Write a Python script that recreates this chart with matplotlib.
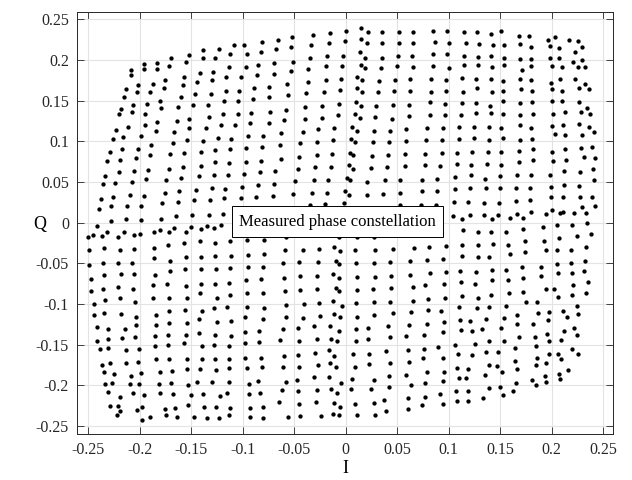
import numpy as np
import matplotlib
matplotlib.use('Agg')
import matplotlib.pyplot as plt

plt.rcParams['font.family'] = ['Liberation Serif', 'DejaVu Serif']
plt.rcParams['axes.unicode_minus'] = False

# measured (I, Q) samples, grouped by region of the plane
left_upper = [
    (-0.152, 0.206), (-0.170, 0.202), (-0.155, 0.197), (-0.183, 0.196), (-0.196, 0.195),
    (-0.172, 0.193), (-0.183, 0.189), (-0.196, 0.189), (-0.209, 0.188), (-0.209, 0.181),
    (-0.157, 0.179), (-0.176, 0.175), (-0.187, 0.170), (-0.202, 0.169), (-0.177, 0.166),
    (-0.158, 0.169), (-0.213, 0.164), (-0.203, 0.161), (-0.190, 0.161), (-0.215, 0.155),
    (-0.160, 0.155), (-0.180, 0.150), (-0.207, 0.145), (-0.193, 0.146), (-0.218, 0.140),
    (-0.179, 0.141), (-0.163, 0.142), (-0.208, 0.136), (-0.195, 0.134), (-0.220, 0.133),
    (-0.164, 0.125), (-0.152, 0.127), (-0.183, 0.124), (-0.195, 0.120), (-0.211, 0.118),
    (-0.223, 0.114), (-0.184, 0.113), (-0.167, 0.112), (-0.152, 0.116), (-0.199, 0.107),
    (-0.216, 0.105), (-0.226, 0.103), (-0.154, 0.101), (-0.168, 0.098), (-0.189, 0.095),
    (-0.202, 0.091), (-0.217, 0.090), (-0.229, 0.087), (-0.171, 0.085), (-0.157, 0.086),
    (-0.190, 0.083), (-0.204, 0.079), (-0.219, 0.077), (-0.232, 0.076), (-0.158, 0.069),
    (-0.172, 0.066), (-0.192, 0.065), (-0.206, 0.063), (-0.220, 0.062), (-0.234, 0.057),
    (-0.194, 0.054), (-0.175, 0.053), (-0.160, 0.055), (-0.208, 0.050), (-0.224, 0.049),
    (-0.236, 0.047), (-0.162, 0.039), (-0.176, 0.037), (-0.210, 0.034), (-0.196, 0.033),
    (-0.226, 0.032), (-0.238, 0.029), (-0.163, 0.025), (-0.178, 0.024), (-0.212, 0.020),
    (-0.199, 0.020), (-0.228, 0.020), (-0.240, 0.017), (-0.165, 0.008), (-0.179, 0.004),
    (-0.199, 0.003), (-0.213, 0.005), (-0.228, 0.002),
]
left_lower = [
    (-0.242, -0.004), (-0.250, -0.018), (-0.245, -0.015), (-0.237, -0.016), (-0.232, -0.012),
    (-0.221, -0.018), (-0.215, -0.012), (-0.206, -0.015), (-0.200, -0.014), (-0.186, -0.012),
    (-0.180, -0.009), (-0.172, -0.011), (-0.167, -0.007), (-0.155, -0.011), (-0.157, -0.025),
    (-0.173, -0.027), (-0.186, -0.031), (-0.249, -0.034), (-0.235, -0.031), (-0.219, -0.033),
    (-0.206, -0.032), (-0.249, -0.052), (-0.236, -0.050), (-0.221, -0.049), (-0.208, -0.049),
    (-0.186, -0.044), (-0.171, -0.047), (-0.155, -0.042), (-0.156, -0.057), (-0.171, -0.060),
    (-0.185, -0.064), (-0.235, -0.064), (-0.218, -0.063), (-0.206, -0.063), (-0.247, -0.069),
    (-0.236, -0.081), (-0.221, -0.079), (-0.207, -0.082), (-0.247, -0.084), (-0.187, -0.077),
    (-0.174, -0.075), (-0.155, -0.078), (-0.154, -0.092), (-0.172, -0.092), (-0.187, -0.093),
    (-0.234, -0.095), (-0.219, -0.093), (-0.205, -0.097), (-0.244, -0.100), (-0.244, -0.114),
    (-0.235, -0.111), (-0.218, -0.112), (-0.204, -0.116), (-0.184, -0.114), (-0.172, -0.109),
    (-0.156, -0.107), (-0.242, -0.128), (-0.231, -0.131), (-0.214, -0.131), (-0.204, -0.126),
    (-0.184, -0.126), (-0.172, -0.123), (-0.154, -0.123), (-0.242, -0.145), (-0.231, -0.143),
    (-0.217, -0.142), (-0.205, -0.140), (-0.185, -0.139), (-0.173, -0.138), (-0.155, -0.138),
    (-0.157, -0.148), (-0.173, -0.150), (-0.185, -0.152), (-0.239, -0.155), (-0.231, -0.154),
    (-0.213, -0.156), (-0.201, -0.155), (-0.237, -0.175), (-0.229, -0.172), (-0.213, -0.173),
    (-0.202, -0.171), (-0.184, -0.167), (-0.172, -0.167), (-0.154, -0.168), (-0.235, -0.184),
    (-0.225, -0.186), (-0.209, -0.188), (-0.199, -0.185), (-0.180, -0.184), (-0.169, -0.182),
    (-0.154, -0.180), (-0.234, -0.198), (-0.227, -0.197), (-0.210, -0.198), (-0.201, -0.198),
    (-0.181, -0.198), (-0.170, -0.197), (-0.153, -0.199), (-0.231, -0.208), (-0.219, -0.214),
    (-0.207, -0.209), (-0.196, -0.212), (-0.180, -0.209), (-0.168, -0.211), (-0.150, -0.212),
    (-0.229, -0.225), (-0.221, -0.225), (-0.219, -0.231), (-0.222, -0.236), (-0.203, -0.230),
    (-0.198, -0.226), (-0.176, -0.229), (-0.166, -0.228), (-0.153, -0.224), (-0.198, -0.243),
    (-0.190, -0.239), (-0.175, -0.237), (-0.164, -0.239),
]
midleft_upper = [
    (-0.139, 0.212), (-0.139, 0.202), (-0.123, 0.214), (-0.127, 0.202), (-0.109, 0.218),
    (-0.112, 0.207), (-0.099, 0.218), (-0.096, 0.207), (-0.081, 0.222), (-0.082, 0.210),
    (-0.066, 0.225), (-0.068, 0.213), (-0.052, 0.228), (-0.053, 0.216), (-0.051, 0.198),
    (-0.070, 0.196), (-0.085, 0.194), (-0.097, 0.191), (-0.113, 0.191), (-0.129, 0.185),
    (-0.142, 0.184), (-0.144, 0.173), (-0.130, 0.175), (-0.116, 0.179), (-0.102, 0.179),
    (-0.086, 0.182), (-0.070, 0.183), (-0.053, 0.186), (-0.057, 0.170), (-0.075, 0.167),
    (-0.089, 0.166), (-0.104, 0.162), (-0.116, 0.162), (-0.131, 0.158), (-0.146, 0.158),
    (-0.056, 0.157), (-0.075, 0.154), (-0.090, 0.152), (-0.105, 0.150), (-0.118, 0.150),
    (-0.134, 0.145), (-0.148, 0.145), (-0.058, 0.139), (-0.074, 0.136), (-0.092, 0.135),
    (-0.105, 0.133), (-0.119, 0.133), (-0.133, 0.130), (-0.060, 0.126), (-0.075, 0.123),
    (-0.093, 0.122), (-0.108, 0.120), (-0.121, 0.120), (-0.136, 0.116), (-0.063, 0.110),
    (-0.080, 0.107), (-0.095, 0.107), (-0.111, 0.103), (-0.124, 0.104), (-0.139, 0.100),
    (-0.064, 0.096), (-0.081, 0.093), (-0.097, 0.092), (-0.112, 0.090), (-0.127, 0.089),
    (-0.141, 0.087), (-0.063, 0.078), (-0.082, 0.076), (-0.097, 0.074), (-0.113, 0.073),
    (-0.127, 0.074), (-0.141, 0.070), (-0.069, 0.064), (-0.083, 0.062), (-0.099, 0.060),
    (-0.114, 0.058), (-0.128, 0.059), (-0.143, 0.057), (-0.049, 0.051), (-0.070, 0.047),
    (-0.085, 0.046), (-0.101, 0.044), (-0.117, 0.041), (-0.130, 0.043), (-0.145, 0.040),
    (-0.051, 0.035), (-0.071, 0.033), (-0.087, 0.032), (-0.102, 0.030), (-0.118, 0.030),
    (-0.132, 0.028), (-0.147, 0.028), (-0.149, 0.010), (-0.133, 0.010), (-0.119, 0.011),
]
midleft_lower = [
    (-0.150, -0.005), (-0.141, -0.008), (-0.135, -0.004), (-0.128, -0.007), (-0.121, -0.003),
    (-0.142, -0.023), (-0.127, -0.025), (-0.112, -0.023), (-0.096, -0.021), (-0.079, -0.021),
    (-0.058, -0.018), (-0.141, -0.042), (-0.127, -0.041), (-0.111, -0.041), (-0.095, -0.040),
    (-0.079, -0.038), (-0.059, -0.034), (-0.141, -0.057), (-0.126, -0.057), (-0.112, -0.056),
    (-0.095, -0.055), (-0.080, -0.054), (-0.061, -0.050), (-0.141, -0.075), (-0.127, -0.075),
    (-0.113, -0.074), (-0.097, -0.071), (-0.082, -0.069), (-0.060, -0.068), (-0.142, -0.087),
    (-0.125, -0.093), (-0.112, -0.089), (-0.096, -0.087), (-0.080, -0.087), (-0.059, -0.084),
    (-0.140, -0.108), (-0.128, -0.105), (-0.115, -0.104), (-0.096, -0.104), (-0.079, -0.105),
    (-0.058, -0.101), (-0.143, -0.119), (-0.125, -0.122), (-0.111, -0.121), (-0.098, -0.116),
    (-0.080, -0.119), (-0.058, -0.116), (-0.143, -0.136), (-0.127, -0.138), (-0.111, -0.139),
    (-0.098, -0.134), (-0.084, -0.133), (-0.061, -0.131), (-0.140, -0.152), (-0.128, -0.150),
    (-0.113, -0.151), (-0.098, -0.148), (-0.084, -0.147), (-0.064, -0.144), (-0.140, -0.168),
    (-0.127, -0.168), (-0.113, -0.168), (-0.098, -0.166), (-0.082, -0.166), (-0.060, -0.164),
    (-0.142, -0.180), (-0.126, -0.181), (-0.113, -0.179), (-0.096, -0.179), (-0.081, -0.178),
    (-0.061, -0.177), (-0.144, -0.196), (-0.130, -0.196), (-0.113, -0.196), (-0.094, -0.198),
    (-0.085, -0.195), (-0.058, -0.196), (-0.139, -0.210), (-0.122, -0.213), (-0.115, -0.209),
    (-0.094, -0.211), (-0.083, -0.209), (-0.062, -0.206), (-0.138, -0.227), (-0.126, -0.226),
    (-0.112, -0.228), (-0.093, -0.228), (-0.080, -0.227), (-0.065, -0.221), (-0.147, -0.239),
    (-0.135, -0.240), (-0.123, -0.240), (-0.113, -0.237), (-0.093, -0.239), (-0.080, -0.240),
    (-0.056, -0.239),
]
center_upper = [
    (-0.032, 0.231), (-0.034, 0.218), (-0.015, 0.233), (-0.016, 0.221), (0.000, 0.236),
    (-0.001, 0.223), (0.015, 0.239), (0.022, 0.234), (0.015, 0.226), (0.021, 0.221),
    (0.035, 0.234), (0.035, 0.221), (-0.035, 0.202), (-0.018, 0.205), (-0.003, 0.205),
    (0.014, 0.210), (0.019, 0.202), (0.035, 0.202), (0.050, 0.192), (-0.037, 0.189),
    (-0.019, 0.192), (-0.004, 0.193), (0.015, 0.194), (0.019, 0.190), (0.034, 0.190),
    (-0.037, 0.173), (-0.019, 0.175), (-0.005, 0.177), (0.011, 0.179), (0.016, 0.175),
    (0.032, 0.174), (0.048, 0.175), (-0.039, 0.159), (-0.021, 0.161), (-0.006, 0.163),
    (0.011, 0.166), (0.016, 0.160), (0.031, 0.161), (0.047, 0.162), (-0.040, 0.142),
    (-0.023, 0.144), (-0.007, 0.146), (0.010, 0.148), (0.015, 0.144), (0.029, 0.144),
    (0.046, 0.145), (-0.040, 0.128), (-0.023, 0.129), (-0.008, 0.132), (0.009, 0.133),
    (0.014, 0.129), (0.028, 0.130), (0.045, 0.128), (-0.042, 0.112), (-0.027, 0.115),
    (-0.011, 0.116), (0.006, 0.118), (0.011, 0.113), (0.027, 0.113), (0.043, 0.113),
    (-0.044, 0.098), (-0.028, 0.099), (-0.012, 0.101), (0.005, 0.103), (0.009, 0.099),
    (0.026, 0.099), (0.042, 0.099), (-0.045, 0.081), (-0.028, 0.083), (-0.013, 0.084),
    (0.004, 0.086), (0.007, 0.083), (0.025, 0.082), (0.041, 0.083), (-0.046, 0.066),
    (-0.030, 0.068), (-0.014, 0.069), (0.003, 0.071), (0.007, 0.066), (0.024, 0.067),
    (0.040, 0.069), (-0.031, 0.052), (-0.017, 0.053), (0.001, 0.055), (0.004, 0.052),
    (0.021, 0.050), (0.038, 0.052), (-0.033, 0.036), (-0.018, 0.037), (-0.001, 0.039),
    (0.003, 0.034), (0.021, 0.034), (0.036, 0.035), (-0.035, 0.022), (-0.020, 0.023),
    (-0.002, 0.024),
]
center_lower = [
    (-0.007, -0.018), (0.011, -0.018), (0.027, -0.018), (-0.042, -0.034), (-0.026, -0.032),
    (-0.011, -0.030), (-0.006, -0.035), (0.009, -0.034), (0.028, -0.034), (0.046, -0.032),
    (-0.045, -0.048), (-0.027, -0.048), (-0.010, -0.047), (-0.007, -0.051), (0.010, -0.050),
    (0.027, -0.049), (0.043, -0.048), (-0.044, -0.066), (-0.028, -0.065), (-0.012, -0.063),
    (-0.007, -0.068), (0.011, -0.067), (0.028, -0.067), (0.044, -0.065), (-0.044, -0.083),
    (-0.028, -0.081), (-0.010, -0.080), (-0.007, -0.084), (0.011, -0.083), (0.026, -0.082),
    (0.044, -0.080), (-0.041, -0.100), (-0.026, -0.099), (-0.012, -0.096), (-0.004, -0.103),
    (0.010, -0.099), (0.027, -0.098), (0.043, -0.097), (-0.042, -0.117), (-0.025, -0.115),
    (-0.011, -0.112), (-0.006, -0.116), (0.011, -0.116), (0.027, -0.114), (0.046, -0.111),
    (-0.046, -0.130), (-0.031, -0.127), (-0.015, -0.127), (-0.007, -0.133), (0.010, -0.131),
    (0.022, -0.129), (0.041, -0.127), (-0.045, -0.145), (-0.028, -0.143), (-0.014, -0.143),
    (-0.009, -0.146), (0.010, -0.145), (0.022, -0.143), (0.043, -0.141), (-0.046, -0.163),
    (-0.030, -0.160), (-0.016, -0.157), (-0.011, -0.164), (0.007, -0.161), (0.023, -0.161),
    (0.039, -0.158), (-0.045, -0.177), (-0.027, -0.175), (-0.015, -0.173), (-0.010, -0.178),
    (0.009, -0.177), (0.023, -0.174), (0.043, -0.172), (-0.047, -0.194), (-0.031, -0.190),
    (-0.016, -0.190), (-0.005, -0.197), (0.006, -0.192), (0.027, -0.193), (0.042, -0.189),
    (-0.046, -0.207), (-0.028, -0.206), (-0.014, -0.204), (-0.009, -0.209), (0.005, -0.205),
    (0.024, -0.205), (0.042, -0.202), (-0.045, -0.223), (-0.029, -0.221), (-0.011, -0.222),
    (-0.006, -0.227), (0.009, -0.223), (0.027, -0.222), (0.037, -0.218), (-0.044, -0.238),
    (-0.024, -0.238), (-0.012, -0.235), (-0.007, -0.237), (0.011, -0.237), (0.028, -0.236),
    (0.039, -0.231),
]
right_upper = [
    (0.052, 0.234), (0.065, 0.234), (0.085, 0.236), (0.098, 0.236), (0.115, 0.234),
    (0.127, 0.234), (0.141, 0.232), (0.151, 0.235), (0.168, 0.230), (0.178, 0.229),
    (0.196, 0.225), (0.203, 0.228), (0.217, 0.225), (0.225, 0.223),
    (0.052, 0.221), (0.065, 0.221), (0.087, 0.222), (0.100, 0.221), (0.117, 0.221),
    (0.129, 0.220), (0.143, 0.218), (0.154, 0.218), (0.169, 0.220), (0.180, 0.216),
    (0.198, 0.217), (0.207, 0.215), (0.229, 0.216), (0.223, 0.210),
    (0.051, 0.205), (0.064, 0.205), (0.085, 0.207), (0.098, 0.207), (0.115, 0.205),
    (0.128, 0.204), (0.141, 0.205), (0.154, 0.202), (0.169, 0.201), (0.180, 0.201),
    (0.198, 0.202), (0.207, 0.203), (0.221, 0.198), (0.229, 0.200),
    (0.065, 0.191), (0.085, 0.193), (0.100, 0.190), (0.115, 0.194), (0.128, 0.194),
    (0.142, 0.191), (0.154, 0.194), (0.171, 0.188), (0.180, 0.193), (0.200, 0.193),
    (0.210, 0.191), (0.225, 0.191), (0.232, 0.191),
    (0.062, 0.176), (0.083, 0.177), (0.097, 0.175), (0.113, 0.178), (0.126, 0.177),
    (0.141, 0.177), (0.153, 0.174), (0.169, 0.176), (0.180, 0.175), (0.199, 0.172),
    (0.208, 0.177), (0.223, 0.176), (0.232, 0.171),
    (0.062, 0.162), (0.083, 0.161), (0.097, 0.162), (0.114, 0.160), (0.127, 0.165),
    (0.142, 0.160), (0.153, 0.162), (0.170, 0.164), (0.181, 0.162), (0.200, 0.164),
    (0.210, 0.162), (0.226, 0.165), (0.236, 0.164),
    (0.061, 0.145), (0.082, 0.148), (0.096, 0.146), (0.113, 0.147), (0.126, 0.147),
    (0.140, 0.143), (0.153, 0.149), (0.169, 0.147), (0.181, 0.148), (0.200, 0.149),
    (0.210, 0.150), (0.226, 0.148), (0.234, 0.141),
    (0.061, 0.131), (0.082, 0.132), (0.096, 0.132), (0.112, 0.132), (0.126, 0.135),
    (0.141, 0.135), (0.153, 0.134), (0.169, 0.132), (0.182, 0.133), (0.201, 0.134),
    (0.213, 0.136), (0.228, 0.136), (0.237, 0.133),
    (0.058, 0.115), (0.079, 0.116), (0.094, 0.116), (0.110, 0.118), (0.124, 0.118),
    (0.139, 0.118), (0.151, 0.116), (0.169, 0.120), (0.180, 0.116), (0.200, 0.119),
    (0.211, 0.120), (0.226, 0.121), (0.236, 0.118), (0.241, 0.112),
    (0.058, 0.100), (0.078, 0.102), (0.093, 0.102), (0.110, 0.103), (0.124, 0.104),
    (0.139, 0.102), (0.153, 0.104), (0.169, 0.102), (0.181, 0.103), (0.203, 0.109),
    (0.213, 0.108), (0.229, 0.108),
    (0.057, 0.084), (0.077, 0.085), (0.093, 0.086), (0.108, 0.086), (0.123, 0.087),
    (0.138, 0.087), (0.151, 0.087), (0.168, 0.088), (0.182, 0.091), (0.200, 0.087),
    (0.213, 0.090), (0.228, 0.092), (0.239, 0.093),
    (0.057, 0.070), (0.077, 0.071), (0.091, 0.070), (0.108, 0.072), (0.122, 0.071),
    (0.137, 0.072), (0.151, 0.071), (0.168, 0.074), (0.182, 0.077), (0.201, 0.076),
    (0.214, 0.077), (0.231, 0.081), (0.242, 0.080),
    (0.053, 0.052), (0.074, 0.053), (0.089, 0.054), (0.106, 0.056), (0.122, 0.059),
    (0.135, 0.054), (0.150, 0.057), (0.166, 0.058), (0.180, 0.059), (0.198, 0.059),
    (0.212, 0.064), (0.227, 0.062), (0.240, 0.066), (0.241, 0.052),
    (0.053, 0.037), (0.074, 0.039), (0.089, 0.039), (0.106, 0.041), (0.121, 0.042),
    (0.136, 0.042), (0.150, 0.042), (0.165, 0.043), (0.179, 0.043), (0.199, 0.044),
    (0.212, 0.046), (0.226, 0.045), (0.239, 0.032),
    (0.053, 0.022), (0.073, 0.022), (0.088, 0.022), (0.105, 0.025), (0.119, 0.025),
    (0.134, 0.024), (0.149, 0.024), (0.165, 0.027), (0.179, 0.028), (0.199, 0.031),
    (0.211, 0.031), (0.227, 0.031), (0.242, 0.021),
    (0.104, 0.008), (0.113, 0.004), (0.121, 0.010), (0.134, 0.009), (0.142, 0.005),
    (0.148, 0.009), (0.159, 0.006), (0.166, 0.011), (0.172, 0.006), (0.180, 0.013),
    (0.194, 0.011), (0.200, 0.015), (0.208, 0.012), (0.211, 0.013), (0.222, 0.012),
    (0.229, 0.019), (0.233, 0.012),
]
right_lower = [
    (0.191, -0.005), (0.205, -0.003), (0.220, -0.003), (0.234, 0.000), (0.114, -0.009),
    (0.128, -0.011), (0.141, -0.012), (0.156, -0.011), (0.172, -0.008), (0.207, -0.019),
    (0.224, -0.017), (0.238, -0.014), (0.066, -0.031), (0.081, -0.030), (0.097, -0.029),
    (0.113, -0.027), (0.128, -0.028), (0.143, -0.026), (0.157, -0.027), (0.174, -0.022),
    (0.192, -0.023), (0.159, -0.039), (0.174, -0.036), (0.194, -0.034), (0.205, -0.033),
    (0.219, -0.033), (0.233, -0.030), (0.062, -0.047), (0.079, -0.046), (0.094, -0.045),
    (0.113, -0.041), (0.128, -0.042), (0.139, -0.042), (0.062, -0.064), (0.082, -0.062),
    (0.097, -0.061), (0.111, -0.059), (0.126, -0.061), (0.142, -0.058), (0.156, -0.058),
    (0.171, -0.055), (0.190, -0.054), (0.205, -0.051), (0.219, -0.050), (0.232, -0.047),
    (0.065, -0.079), (0.077, -0.077), (0.095, -0.075), (0.112, -0.073), (0.125, -0.075),
    (0.142, -0.071), (0.157, -0.071), (0.172, -0.068), (0.190, -0.066), (0.206, -0.062),
    (0.220, -0.062), (0.231, -0.059), (0.235, -0.073), (0.221, -0.077), (0.202, -0.082),
    (0.194, -0.082), (0.065, -0.096), (0.080, -0.094), (0.096, -0.092), (0.113, -0.090),
    (0.128, -0.092), (0.141, -0.089), (0.158, -0.087), (0.172, -0.085), (0.175, -0.097),
    (0.186, -0.097), (0.206, -0.091), (0.220, -0.089), (0.233, -0.086), (0.224, -0.103),
    (0.225, -0.112), (0.063, -0.110), (0.080, -0.107), (0.092, -0.108), (0.110, -0.104),
    (0.127, -0.105), (0.139, -0.104), (0.156, -0.102), (0.166, -0.114), (0.154, -0.117),
    (0.187, -0.111), (0.197, -0.110), (0.211, -0.109), (0.215, -0.116), (0.061, -0.126),
    (0.079, -0.124), (0.095, -0.122), (0.111, -0.120), (0.121, -0.121), (0.136, -0.118),
    (0.166, -0.125), (0.182, -0.124), (0.196, -0.120), (0.222, -0.130), (0.224, -0.138),
    (0.212, -0.133), (0.058, -0.139), (0.076, -0.138), (0.094, -0.135), (0.112, -0.132),
    (0.123, -0.133), (0.132, -0.131), (0.151, -0.130), (0.168, -0.141), (0.154, -0.145),
    (0.139, -0.146), (0.125, -0.149), (0.106, -0.150), (0.184, -0.140), (0.195, -0.137),
    (0.197, -0.146), (0.209, -0.144), (0.060, -0.156), (0.076, -0.155), (0.090, -0.153),
    (0.185, -0.151), (0.164, -0.154), (0.220, -0.155), (0.225, -0.162), (0.061, -0.171),
    (0.075, -0.166), (0.094, -0.166), (0.109, -0.162), (0.123, -0.163), (0.136, -0.159),
    (0.148, -0.159), (0.164, -0.170), (0.186, -0.166), (0.197, -0.161), (0.206, -0.161),
    (0.209, -0.168), (0.194, -0.172), (0.185, -0.175), (0.108, -0.179), (0.119, -0.180),
    (0.139, -0.175), (0.147, -0.176), (0.166, -0.180), (0.152, -0.184), (0.135, -0.187),
    (0.058, -0.187), (0.079, -0.184), (0.095, -0.183), (0.110, -0.191), (0.117, -0.191),
    (0.063, -0.200), (0.077, -0.197), (0.094, -0.195), (0.139, -0.203), (0.150, -0.202),
    (0.165, -0.197), (0.181, -0.194), (0.185, -0.200), (0.193, -0.188), (0.194, -0.196),
    (0.207, -0.186), (0.208, -0.192), (0.216, -0.181), (0.107, -0.207), (0.119, -0.207),
    (0.153, -0.212), (0.162, -0.207), (0.060, -0.216), (0.077, -0.214), (0.091, -0.211),
    (0.108, -0.219), (0.119, -0.219), (0.133, -0.215), (0.060, -0.229), (0.074, -0.224),
    (0.094, -0.223),
]

regions = [left_upper, left_lower, midleft_upper, midleft_lower,
           center_upper, center_lower, right_upper, right_lower]
pts = np.array([p for r in regions for p in r])
I = pts[:, 0]
Q = pts[:, 1]

ticks = [-0.25, -0.2, -0.15, -0.1, -0.05, 0, 0.05, 0.1, 0.15, 0.2, 0.25]
tick_labels = ['-0.25', '-0.2', '-0.15', '-0.1', '-0.05', '0',
               '0.05', '0.1', '0.15', '0.2', '0.25']

fig = plt.figure(figsize=(6.32, 4.8), dpi=100)
ax = fig.add_axes([0.1223, 0.0958, 0.8471, 0.8798])

ax.plot(I, Q, 'o', color='k', markersize=3.1, markeredgewidth=0, zorder=3)

ax.set_xlim(-0.2607, 0.2591)
ax.set_ylim(-0.2598, 0.2593)
ax.set_xticks(ticks)
ax.set_xticklabels(tick_labels)
ax.set_yticks(ticks)
ax.set_yticklabels(tick_labels)
ax.tick_params(direction='in', top=True, right=True, length=5, width=0.6,
               labelsize=11.5, colors='#262626', pad=6)
ax.grid(True, color='#e3e3e3', linewidth=0.8, zorder=0)
ax.set_axisbelow(True)
for s in ax.spines.values():
    s.set_color('#262626')
    s.set_linewidth(0.7)

ax.set_xlabel('I', fontsize=13, labelpad=1)
ax.set_ylabel('Q', fontsize=13, rotation=0, ha='center', va='center')
ax.yaxis.set_label_coords(-0.0697, 0.497)

ax.text(-0.008, 0.001, 'Measured phase constellation', ha='center', va='center',
        fontsize=12, zorder=5,
        bbox=dict(boxstyle='square,pad=0.45', facecolor='white', edgecolor='k', linewidth=0.7))

fig.savefig('out.png', dpi=100)
